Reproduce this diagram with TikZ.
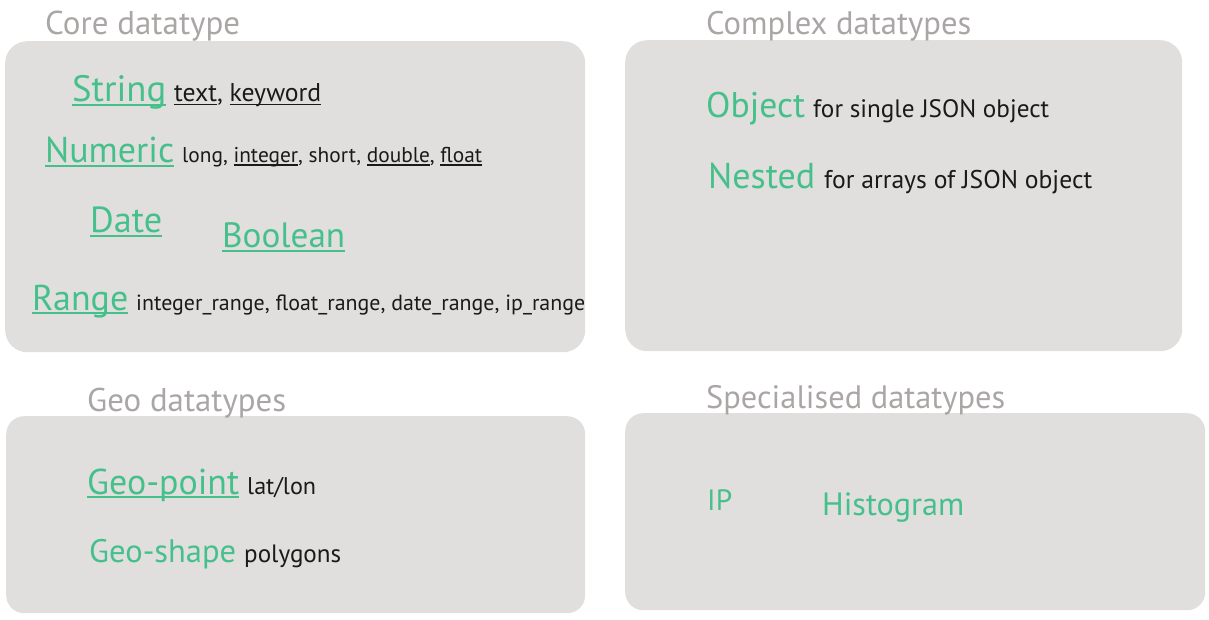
\documentclass[tikz,border=0pt]{standalone}
\usepackage{fontspec}
\setmainfont{PT Sans}
\usepackage{graphicx}
\definecolor{panelgray}{HTML}{E0DFDE}
\definecolor{titlegray}{HTML}{ABA6A6}
\definecolor{typegreen}{HTML}{46C08B}
\definecolor{desc}{HTML}{1A1A1A}
\newcommand\fw[2]{\resizebox{#1pt}{!}{#2}}
\newcommand\undl[1]{\leavevmode\setbox0\hbox{#1}\rlap{\rule[-0.12em]{\wd0}{0.06em}}\box0}
\tikzset{
  panel/.style={fill=panelgray, draw=none, rounded corners=22pt, anchor=north west, inner sep=0pt},
  ttl/.style={anchor=base west, inner sep=0pt, text=titlegray},
  typ/.style={anchor=base west, inner sep=0pt, text=typegreen},
  dsc/.style={anchor=base west, inner sep=0pt, text=desc}
}
\begin{document}
\begin{tikzpicture}[x=1pt,y=-1pt]
\useasboundingbox (0,0) rectangle (1209,620);
% panels
\node[panel, minimum width=580pt, minimum height=311pt] (core) at (5,41) {};
\node[panel, minimum width=557pt, minimum height=311pt] (complex) at (625,40) {};
\node[panel, rounded corners=18pt, minimum width=579pt, minimum height=197pt] (geo) at (6,416) {};
\node[panel, rounded corners=18pt, minimum width=580pt, minimum height=197pt] (spec) at (625,413) {};
% titles
\node[ttl] (tcore) at (45,35) {\fw{195}{Core datatype}};
\node[ttl] (tcomplex) at (706,35) {\fw{265}{Complex datatypes}};
\node[ttl] (tgeo) at (87,411) {\fw{199}{Geo datatypes}};
\node[ttl] (tspec) at (706,408) {\fw{299}{Specialised datatypes}};
% core
\node[typ] (string) at (72,102) {\fw{94}{\undl{String}}};
\node[dsc] (stringd) at (174,102) {\fw{147}{\undl{text}, \undl{keyword}}};
\node[typ] (numeric) at (45,163) {\fw{129}{\undl{Numeric}}};
\node[dsc] (numericd) at (182,163) {\fw{300}{long, \undl{integer}, short, \undl{double}, \undl{float}}};
\node[typ] (date) at (90,233) {\fw{72}{\undl{Date}}};
\node[typ] (boolean) at (222,248) {\fw{123}{\undl{Boolean}}};
\node[typ] (range) at (32,310) {\fw{96}{\undl{Range}}};
\node[dsc] (ranged) at (136,310) {\fw{449}{integer\_range, float\_range, date\_range, ip\_range}};
% complex
\node[typ] (object) at (706,118) {\fw{99}{Object}};
\node[dsc] (objectd) at (813,118) {\fw{236}{for single JSON object}};
\node[typ] (nested) at (708,189) {\fw{107}{Nested}};
\node[dsc] (nestedd) at (824,189) {\fw{268}{for arrays of JSON object}};
% geo
\node[typ] (geopoint) at (87,494) {\fw{152}{\undl{Geo-point}}};
\node[dsc] (geopointd) at (247,494) {\fw{69}{lat/lon}};
\node[typ] (geoshape) at (89,562) {\fw{147}{Geo-shape}};
\node[dsc] (geoshaped) at (244,562) {\fw{97}{polygons}};
% specialised
\node[typ] (ip) at (707,510) {\fw{25}{IP}};
\node[typ] (histogram) at (822,515) {\fw{142}{Histogram}};
\end{tikzpicture}
\end{document}
